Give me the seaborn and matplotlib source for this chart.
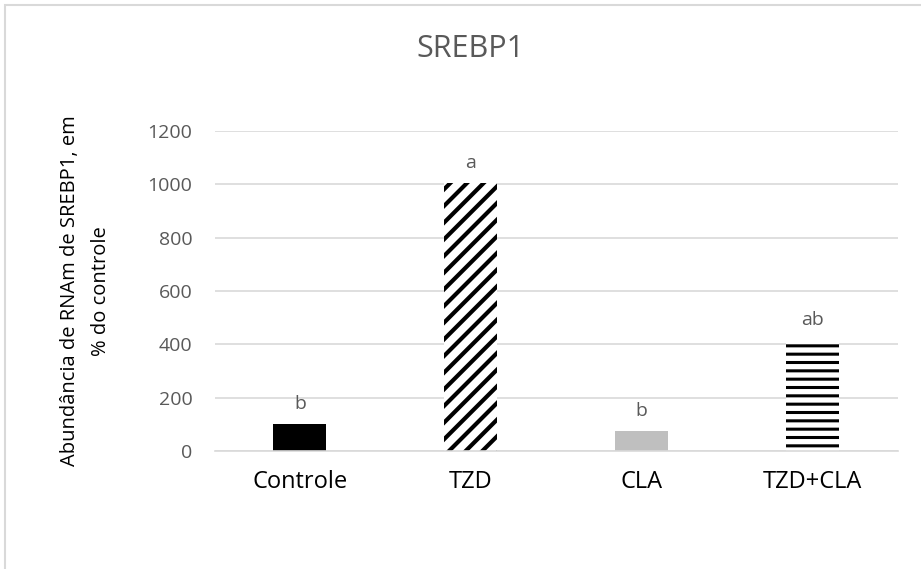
import matplotlib
matplotlib.use("Agg")
import matplotlib.pyplot as plt
import seaborn as sns
import pandas as pd
from matplotlib.patches import Rectangle

categories = ["Controle", "TZD", "CLA", "TZD+CLA"]
values = [100, 1005, 75, 415]
letters = ["b", "a", "b", "ab"]
title = "SREBP1"
ylabel = "Abundância de RNAm de SREBP1, em\n% do controle"
yticks = [0, 200, 400, 600, 800, 1000, 1200]

sns.set_theme(style="white")
plt.rcParams["font.family"] = ["Open Sans", "DejaVu Sans"]
plt.rcParams["hatch.linewidth"] = 3.0

fig = plt.figure(figsize=(9.21, 5.69), dpi=100)
ax = fig.add_axes([0.2330, 0.2074, 0.7415, 0.5624])

df = pd.DataFrame({"cat": categories, "val": values})
facecols = ["#000000", "#FFFFFF", "#BFBFBF", "#FFFFFF"]
sns.barplot(data=df, x="cat", y="val", hue="cat", palette=facecols, legend=False,
            width=0.31, ax=ax, saturation=1)

hatches = [None, "//", None, "--"]
for p, h, fc in zip(ax.patches, hatches, facecols):
    p.set_facecolor(fc)
    p.set_linewidth(0)
    if h:
        p.set_hatch(h)
        p.set_edgecolor("black")
    else:
        p.set_edgecolor(fc)

if hasattr(ax.patches[3], "set_hatch_linewidth"):
    ax.patches[3].set_hatch_linewidth(2.2)

for i, (v, lab) in enumerate(zip(values, letters)):
    ax.annotate(lab, (i, v), xytext=(0, 8), textcoords="offset points",
                ha="center", va="bottom", fontsize=14, color="#595959")

ax.set_ylim(0, 1200)
ax.set_xlim(-0.5, 3.5)
ax.set_yticks(yticks)
ax.yaxis.grid(True, color="#D9D9D9", linewidth=1.2)
ax.set_axisbelow(True)
for s in ["top", "right", "left"]:
    ax.spines[s].set_visible(False)
ax.spines["bottom"].set_color("#D9D9D9")
ax.spines["bottom"].set_linewidth(1.2)
ax.tick_params(axis="y", length=0, pad=16, labelsize=14, labelcolor="#595959")
ax.tick_params(axis="x", length=0, pad=14, labelsize=17, labelcolor="#000000")
ax.set_xlabel("")
ax.set_ylabel(ylabel, fontsize=14.5, color="#000000", labelpad=26, linespacing=1.75)

fig.text(470 / 921, 1 - 49 / 569, title, ha="center", va="center", fontsize=22, color="#595959")

fig.patches.append(Rectangle((5 / 921, -0.05), 1.1, 1 - 5 / 569 + 0.05, transform=fig.transFigure,
                             fill=False, edgecolor="#D9D9D9", linewidth=1.5))

fig.savefig("out.png", dpi=100)
